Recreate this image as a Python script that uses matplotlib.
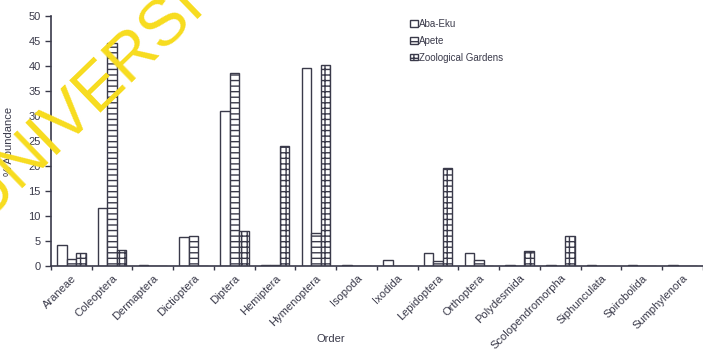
import matplotlib.pyplot as plt
import numpy as np

orders = ['Araneae', 'Coleoptera', 'Dermaptera', 'Dictioptera', 'Diptera',
          'Hemiptera', 'Hymenoptera', 'Isopoda', 'Ixodida', 'Lepidoptera',
          'Orthoptera', 'Polydesmida', 'Scolopendromorpha', 'Siphunculata',
          'Spirobolida', 'Sumphylenora']
aba_eku = [4.2, 11.7, 0.2, 5.7, 31.0, 0.2, 39.6, 0.2, 1.2, 2.6, 2.6, 0.2, 0.2, 0.2, 0.2, 0.2]
apete = [1.3, 44.7, 0.0, 6.0, 38.6, 0.2, 6.5, 0.0, 0.0, 0.9, 1.2, 0.0, 0.0, 0.0, 0.0, 0.0]
zoo = [2.6, 3.1, 0.0, 0.0, 7.0, 24.0, 40.3, 0.0, 0.0, 19.7, 0.0, 3.0, 6.0, 0.0, 0.0, 0.0]

plt.rcParams['font.family'] = ['Liberation Sans', 'DejaVu Sans']
plt.rcParams['hatch.linewidth'] = 1.0
ink = '#3a3a4a'

fig = plt.figure(figsize=(7.03, 3.53), dpi=100, facecolor='w')
ax = fig.add_axes([0.0725, 0.2465, 0.9275, 0.708])

x = np.arange(len(orders)) + 0.5
w = 0.233
series = [(aba_eku, 'Aba-Eku', ''), (apete, 'Apete', '---'), (zoo, 'Zoological Gardens', '+++')]
for i, (vals, name, hatch) in enumerate(series):
    ax.bar(x + (i - 1) * w, vals, w, color='white', edgecolor=ink,
           linewidth=1.0, hatch=hatch, label=name)

ax.set_xlim(0, len(orders))
ax.set_ylim(0, 50)
ax.set_yticks(np.arange(0, 51, 5))
ax.tick_params(axis='y', labelsize=8, colors=ink, length=4, width=1)

# category boundaries get the tick marks, names sit at the centres
ax.set_xticks(np.arange(len(orders) + 1))
ax.set_xticklabels([])
ax.set_xticks(x, minor=True)
ax.set_xticklabels(orders, minor=True, rotation=45, ha='right',
                   rotation_mode='anchor', fontsize=8, color=ink)
ax.tick_params(axis='x', which='major', length=3, width=1, colors=ink)
ax.tick_params(axis='x', which='minor', length=0, pad=5)

for s in ['top', 'right']:
    ax.spines[s].set_visible(False)
for s in ['left', 'bottom']:
    ax.spines[s].set_color(ink)
    ax.spines[s].set_linewidth(1.2)

ax.set_ylabel('% Abundance', fontsize=8, color=ink, labelpad=10)
fig.text(0.47, 0.03, 'Order', fontsize=8, color=ink, ha='center')

leg = ax.legend(loc='upper left', bbox_to_anchor=(0.577, 0.96),
                bbox_transform=fig.transFigure, frameon=False, fontsize=7,
                handlelength=0.8, handleheight=0.65, handletextpad=0.1,
                labelspacing=0.7, borderpad=0)
for t in leg.get_texts():
    t.set_color(ink)

fig.text(-0.02, 0.365, 'UNIVERSITY OF IBADAN LIBRARY', fontsize=47,
         color='#f7dc1e', rotation=44, ha='left', va='baseline',
         rotation_mode='anchor', zorder=10)

fig.savefig('out.png', dpi=100)
